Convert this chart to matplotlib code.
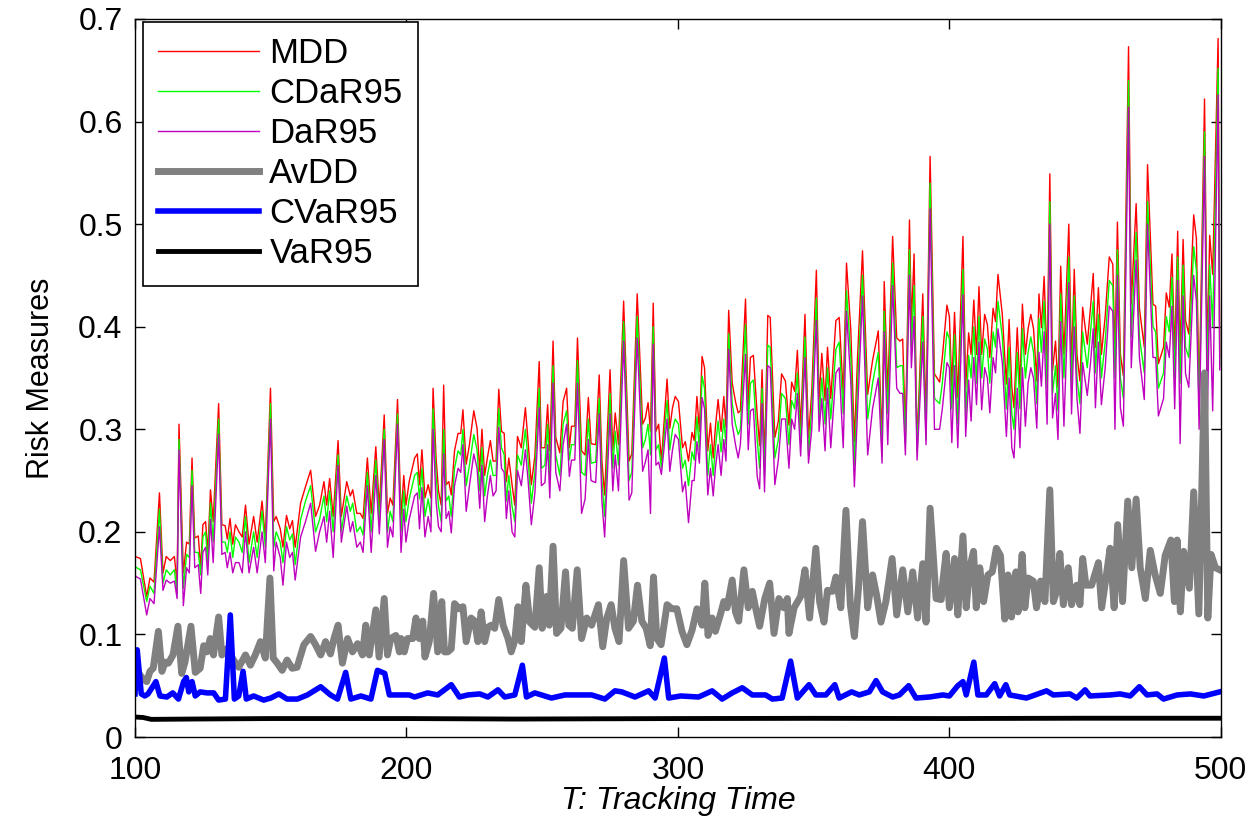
import numpy as np
import matplotlib
matplotlib.use("Agg")
import matplotlib.pyplot as plt
from matplotlib.ticker import FuncFormatter

plt.rcParams['font.family'] = ['Liberation Sans', 'DejaVu Sans']

# drawdown measures at peaks / valleys
t_dd = [100, 102, 104.3, 105.5, 107, 109, 110.3, 111.5, 113, 114.5, 115.5, 116.2, 117.8, 119, 120, 121, 122, 123.3,
        124.2, 125, 126, 126.8, 127.8, 128.8, 130.8, 132, 133.2, 134, 135, 136, 137, 138.3, 139.5, 140.7, 142,
        143.7, 145, 146.8, 148, 149.9, 151.1, 152, 153.5, 154.5, 155.8, 157, 158, 159, 161, 162.8, 164.7, 166.5,
        168, 169.6, 170.6, 171.7, 173, 174.8, 176, 178, 179.3, 180.2, 181.7, 183, 184, 185.6, 187, 188.7, 190,
        191.8, 193, 194, 195, 196.7, 198, 199, 199.8, 201, 203, 204, 204.8, 205.7, 206.8, 208, 209, 209.8,
        210.9, 211.8, 212.8, 213.7, 214.6, 215.6, 216.5, 217.7, 219, 220, 220.8, 222, 223.2, 224.8, 226, 227,
        227.8, 228.8, 229.8, 230.9, 231.9, 233, 234, 235, 236, 236.8, 237.7, 238.9, 239.9, 240.9, 242.3, 243.8,
        244.8, 246, 247.3, 248.9, 249.7, 251, 252, 252.8, 254, 255, 256.5, 257.7, 259, 260, 260.8, 262, 263,
        264.5, 265.8, 267, 268, 269.7, 271, 272, 273, 275, 276, 276.9, 278.1, 280, 282, 283, 285, 287, 288,
        289, 289.9, 290.9, 291.9, 292.9, 293.9, 296, 297, 298, 299, 300.2, 301.7, 302.7, 303.9, 305.2, 306,
        307, 307.9, 308.9, 309.8, 311, 312, 313, 313.8, 314.8, 315.9, 316.9, 317.7, 318.7, 320, 321.2, 322.2,
        323, 324.9, 325.9, 326.7, 327.8, 329.2, 330.1, 331, 331.9, 333.1, 334, 335.7, 337, 338.2, 339.6, 340.9,
        341.9, 343, 344, 345.2, 346.8, 348.1, 349.3, 351, 352, 353, 354.2, 355.1, 356.3, 358.2, 359.4, 360.9,
        362.1, 363.7, 365, 366.2, 368, 369.9, 371.7, 373.8, 375.2, 376, 377.3, 379.1, 380.6, 381.8, 382.8,
        383.8, 385.3, 386, 387, 388.1, 390.2, 391.4, 392.9, 394.5, 396.4, 397.4, 399.1, 400, 400.9, 401.9,
        403.1, 405, 406, 407.1, 408, 409, 410, 410.9, 411.9, 413, 414, 414.9, 416.1, 417, 417.9, 419.5, 421,
        422, 423, 423.8, 425, 426, 426.9, 428, 429, 430, 431, 432.2, 433, 433.9, 434.9, 436, 437, 438, 439.1,
        440, 441, 442.2, 444, 445, 446, 447, 448.1, 449.1, 450.8, 452, 453, 453.8, 454.9, 456, 457.4, 458.9,
        460.2, 461, 461.9, 463, 464.1, 466, 467, 468.8, 470, 471.8, 473, 475, 476, 477, 478.9, 479.9, 481, 482,
        483, 484.1, 485, 486.1, 487, 488.2, 490, 491, 492, 494, 495, 495.9, 497, 499, 499.6]

mdd = [.176, .174, .137, .155, .151, .238, .160, .176, .172, .176, .150, .305, .160, .190, .188, .272, .194, .196,
       .165, .207, .210, .180, .241, .210, .325, .207, .206, .193, .213, .188, .207, .200, .195, .226, .188,
       .215, .190, .230, .194, .340, .210, .215, .203, .185, .216, .203, .211, .185, .228, .244, .260, .215,
       .226, .249, .226, .252, .215, .289, .215, .249, .235, .241, .218, .218, .213, .272, .218, .283, .224,
       .314, .218, .233, .226, .329, .215, .255, .226, .249, .272, .276, .246, .280, .233, .246, .233, .340,
       .272, .240, .226, .343, .246, .249, .236, .279, .296, .296, .319, .266, .285, .318, .301, .259,
       .300, .255, .272, .289, .269, .269, .339, .298, .296, .249, .272, .246, .226, .293, .282, .321,
       .288, .246, .274, .366, .282, .282, .324, .279, .386, .292, .277, .327, .340, .282, .303, .303, .389,
       .279, .275, .331, .286, .285, .353, .269, .236, .358, .279, .316, .285, .425, .269, .276, .432, .305, .311,
       .326, .298, .423, .298, .305, .269, .349, .301, .321, .332, .327, .282, .288, .269, .297, .289,
       .332, .298, .371, .360, .279, .306, .272, .302, .329, .298, .332, .302, .416, .345, .327, .316,
       .318, .427, .324, .370, .372, .314, .284, .358, .269, .411, .409, .292, .308, .354, .347, .304,
       .346, .337, .377, .301, .412, .292, .337, .455, .328, .374, .328, .380, .330, .406, .409, .334,
       .462, .396, .288, .372, .474, .334, .367, .396, .288, .444, .336, .488, .389, .386, .388,
       .298, .504, .403, .471, .285, .432, .311, .566, .354, .346, .370, .421, .410, .341, .414,
       .331, .488, .341, .394, .373, .426, .373, .439, .373, .412, .402, .370, .418, .405, .451, .412, .344,
       .407, .341, .321, .399, .341, .422, .373, .398, .412, .398, .347, .432, .399, .449, .364, .549, .357, .386,
       .341, .459, .373, .500, .361, .456, .373, .347, .419, .383, .419, .452, .380, .438, .373, .410, .468,
       .461, .373, .502, .373, .352, .673, .422, .520, .418, .380, .558, .422, .420, .364, .380, .433, .419, .471,
       .373, .493, .373, .485, .406, .393, .509, .486, .331, .622, .373, .489, .451, .681, .370]

cdar95 = [.166, .163, .132, .147, .140, .222, .150, .163, .158, .163, .140, .290, .145, .178, .175, .260, .180, .180,
          .158, .195, .200, .170, .228, .190, .310, .190, .190, .180, .200, .175, .195, .190, .180, .215, .170,
          .200, .175, .220, .185, .325, .185, .200, .190, .170, .205, .192, .198, .168, .212, .230, .245, .200,
          .212, .235, .210, .240, .200, .275, .200, .235, .220, .228, .200, .205, .197, .258, .200, .270, .210,
          .300, .200, .220, .210, .315, .200, .240, .210, .232, .255, .258, .232, .262, .215, .232, .215, .320,
          .255, .225, .210, .300, .230, .235, .215, .262, .279, .275, .300, .245, .265, .295, .280, .240,
          .282, .235, .255, .270, .255, .255, .320, .282, .275, .230, .255, .225, .210, .275, .265, .300,
          .270, .228, .258, .340, .262, .265, .305, .255, .362, .275, .255, .305, .318, .270, .285, .285, .367,
          .258, .255, .310, .267, .268, .330, .250, .215, .335, .262, .298, .265, .405, .250, .258, .410, .282, .290,
          .305, .275, .400, .280, .285, .262, .328, .280, .300, .310, .305, .262, .270, .245, .278, .270,
          .312, .280, .352, .340, .255, .285, .255, .282, .308, .278, .310, .285, .393, .325, .305, .295,
          .300, .402, .305, .345, .348, .290, .262, .340, .255, .382, .380, .272, .290, .335, .330, .285,
          .328, .320, .355, .285, .390, .275, .320, .428, .310, .350, .305, .360, .310, .378, .385, .315,
          .435, .370, .265, .345, .450, .310, .345, .375, .275, .415, .315, .462, .360, .362, .362,
          .285, .475, .380, .440, .278, .410, .290, .540, .330, .325, .345, .395, .388, .320, .392,
          .305, .456, .312, .372, .350, .400, .345, .410, .350, .388, .378, .345, .395, .380, .425, .390, .320,
          .380, .315, .300, .375, .320, .398, .350, .375, .390, .375, .325, .408, .375, .425, .340, .522, .335, .362,
          .318, .432, .350, .468, .340, .430, .350, .325, .395, .360, .395, .425, .355, .412, .350, .385, .445,
          .440, .350, .475, .350, .330, .640, .390, .492, .390, .355, .522, .400, .395, .340, .355, .410, .395, .448,
          .350, .468, .345, .460, .380, .370, .478, .455, .315, .590, .350, .460, .400, .652, .362]

dar95 = [.157, .154, .119, .135, .130, .205, .143, .153, .150, .152, .135, .280, .128, .165, .160, .245, .165, .168,
         .140, .180, .185, .158, .212, .170, .295, .178, .180, .165, .180, .160, .170, .170, .160, .200, .160,
         .185, .160, .200, .170, .310, .162, .190, .175, .148, .190, .175, .180, .153, .195, .210, .228, .181,
         .200, .215, .190, .220, .175, .265, .190, .225, .200, .210, .185, .190, .180, .245, .180, .255, .198,
         .290, .185, .205, .195, .305, .180, .222, .190, .212, .235, .238, .203, .243, .195, .215, .200, .300,
         .230, .205, .200, .276, .213, .220, .199, .245, .262, .258, .285, .220, .245, .276, .262, .223,
         .265, .210, .235, .255, .235, .240, .302, .262, .258, .213, .240, .200, .195, .260, .245, .280,
         .250, .207, .238, .321, .245, .248, .285, .233, .345, .258, .240, .285, .305, .254, .270, .270, .345,
         .218, .232, .290, .250, .248, .315, .230, .195, .315, .240, .275, .240, .386, .231, .238, .389, .259, .268,
         .280, .218, .383, .265, .268, .256, .310, .259, .280, .295, .290, .239, .249, .209, .250, .250,
         .288, .267, .331, .320, .236, .262, .235, .262, .285, .255, .290, .269, .378, .305, .285, .272,
         .285, .373, .280, .318, .320, .254, .242, .325, .239, .362, .360, .246, .270, .310, .310, .262,
         .310, .300, .335, .274, .370, .267, .300, .406, .298, .330, .279, .340, .282, .355, .360, .282,
         .415, .345, .244, .320, .430, .275, .320, .350, .267, .395, .285, .440, .340, .335, .335,
         .275, .450, .360, .410, .270, .385, .285, .515, .300, .300, .320, .365, .360, .287, .362,
         .282, .431, .293, .348, .308, .370, .324, .385, .319, .360, .350, .316, .370, .355, .398, .365, .293,
         .350, .282, .272, .340, .282, .360, .303, .345, .360, .350, .301, .375, .342, .395, .305, .500, .311, .335,
         .290, .405, .303, .443, .315, .400, .330, .296, .365, .333, .365, .398, .321, .385, .324, .360, .420,
         .415, .300, .450, .321, .303, .614, .360, .465, .370, .329, .500, .370, .370, .313, .330, .385, .370, .420,
         .320, .445, .286, .430, .354, .341, .450, .425, .300, .566, .310, .430, .318, .626, .358]

t_avdd = [100, 102.8, 104.3, 105.5, 106.7, 108.6, 109.9, 111.1, 112.3, 114, 115.8, 117.2, 118.4, 120.6, 122.2, 124,
          125.3, 126.5, 127.7, 128.9, 130.8, 132, 133.8, 136.3, 138.2, 140.7, 142.5, 144.3, 146.2, 148, 149.7,
          150.9, 152.4, 154.2, 156, 157.9, 159.7, 162.2, 164.7, 166.5, 168.4, 170.2, 172, 173.3, 174.8, 176.4,
          178.3, 180.1, 182, 183.8, 185, 186.3, 188.7, 189.9, 191.8, 193, 194.2, 196.1, 197.4, 198, 199.2, 200.4,
          202.3, 203.5, 204.7, 206, 206.8, 208.4, 210, 211.5, 213, 214, 215.2, 216.5, 217.7, 219.5, 220.8, 222,
          223.8, 225.1, 226.3, 227.5, 228.8, 230, 231.2, 232.5, 234, 235.6, 237.4, 238.6, 239.9, 241.1, 242.3,
          244, 245.4, 247.3, 248.9, 250, 251.6, 252.6, 254, 255.3, 256.9, 258.6, 259.8, 261.1, 262.9, 264.5,
          266.4, 268.2, 270.7, 272.3, 273.8, 275.4, 276.8, 278.3, 280, 281.8, 283.6, 285.1, 286.7, 288.3, 289.8,
          291, 292.2, 293.8, 296, 297.8, 299.6, 301.5, 303.3, 305.2, 307, 308.9, 309.9, 311.1, 312.6, 313.8,
          315.6, 316.9, 318.1, 320, 321.2, 322.4, 324.3, 325.9, 327.4, 328.6, 330.1, 332, 333.8, 335.4, 337.2,
          339, 340.3, 340.9, 342.8, 345.2, 346.8, 348.5, 350.8, 352.2, 353.8, 355.1, 356.9, 358.2, 360, 361.9,
          363.5, 365, 366.5, 368, 369.9, 371.7, 373.2, 374.8, 376.6, 378.9, 380.6, 382.8, 384.7, 386.5, 388.3,
          390.2, 391.4, 392.9, 395.1, 397, 397.6, 398.8, 400, 401.9, 403.1, 405, 406.2, 407.5, 408.9, 409.9,
          411.2, 412.6, 414.2, 415.8, 417.3, 418.8, 420.4, 421.6, 422.9, 424.5, 425.3, 426.8, 427.8, 429, 430.9,
          432.1, 433.6, 435.2, 437, 438.3, 439.5, 440.7, 442, 443.8, 445, 446.9, 448.1, 449.1, 450.3, 452.4,
          454.9, 456.1, 458, 459.2, 460.7, 462, 463.8, 465.7, 467.2, 468.8, 470.3, 472.2, 474, 475.8, 477.7,
          479.5, 481.6, 482.9, 483.9, 485.1, 486.3, 488.4, 490, 491.9, 494, 495.2, 496.4, 498, 499.6]

avdd = [.067, .057, .054, .064, .067, .103, .064, .073, .072, .080, .108, .062, .073, .108, .063, .067,
        .089, .083, .096, .080, .117, .080, .086, .075, .068, .080, .070, .080, .093, .077, .155,
        .077, .072, .065, .075, .067, .068, .090, .098, .090, .080, .093, .081, .096, .109, .072,
        .096, .083, .091, .080, .109, .080, .124, .078, .135, .080, .096, .099, .083, .096, .083, .096,
        .096, .116, .096, .113, .078, .093, .140, .083, .132, .083, .083, .086, .130, .125, .127, .093,
        .116, .113, .093, .122, .093, .107, .109, .106, .134, .109, .096, .083, .094, .127, .093,
        .148, .112, .107, .165, .106, .137, .109, .186, .101, .106, .161, .109, .106, .163, .096,
        .116, .109, .129, .088, .116, .129, .106, .093, .172, .106, .113, .148, .113, .106, .089,
        .156, .096, .090, .129, .125, .125, .103, .090, .104, .125, .109, .150, .099, .116, .103,
        .119, .132, .126, .153, .122, .113, .163, .126, .142, .126, .108, .135, .150, .101, .135,
        .126, .135, .101, .126, .137, .163, .116, .184, .132, .112, .143, .142, .156, .126, .221,
        .129, .098, .145, .210, .126, .158, .138, .112, .132, .174, .119, .163, .122, .161, .116,
        .169, .112, .223, .135, .134, .152, .179, .126, .174, .119, .196, .126, .165, .181, .126,
        .165, .132, .158, .161, .184, .177, .115, .158, .117, .161, .122, .178, .126, .155, .152,
        .126, .152, .132, .241, .132, .142, .179, .129, .165, .129, .148, .129, .174, .148, .148,
        .170, .126, .161, .184, .126, .207, .132, .230, .165, .232, .165, .135, .182, .158, .140,
        .177, .192, .132, .192, .122, .181, .145, .239, .120, .355, .116, .178, .165, .163]

t_cvar = [100, 100.8, 102.3, 103.6, 104.8, 107.7, 109.2, 111.7, 113.9, 116, 117.9, 118.9, 119.8, 121, 122.2, 124,
          126.5, 129, 130.8, 133.3, 135.1, 136.6, 138.2, 139.8, 141, 143.7, 147.4, 150, 153, 156, 159.8, 163.5,
          168.4, 172, 174.6, 177.6, 179.5, 183.2, 186.9, 189.3, 192, 193.7, 196.8, 201, 203, 207.8, 211.5,
          216.5, 219.5, 222.6, 227, 230, 233.7, 236.2, 239.9, 242.7, 244.2, 247.3, 253.4, 258.4, 263.3, 268.2,
          273.1, 276.8, 279.3, 284.2, 289.2, 291.6, 295, 296.6, 301, 307.6, 312.6, 316.3, 320, 323.7, 327.4,
          332.3, 334.8, 338.4, 341.5, 344, 348.3, 350.8, 354.5, 357.8, 359.4, 364, 366.8, 370.5, 373, 375.4,
          379.1, 381.6, 385, 387.7, 392.7, 397.6, 400, 403.1, 405, 406.2, 409, 410.5, 413.6, 416.7, 418.5,
          420.8, 422.2, 428.4, 435.8, 438.3, 444.4, 446.9, 450, 451.8, 459.2, 462.9, 466.6, 470, 472.8, 476.5,
          478.9, 483.9, 488.8, 493.7, 499.6]

cvar95 = [.042, .085, .042, .040, .042, .054, .040, .039, .043, .037, .054, .058, .044, .054, .040, .044,
          .043, .043, .036, .037, .119, .037, .040, .064, .037, .040, .036, .038, .042, .037, .037, .041,
          .049, .041, .037, .063, .037, .040, .037, .065, .062, .041, .041, .041, .039, .043, .041,
          .051, .039, .041, .042, .039, .046, .039, .041, .070, .039, .043, .038, .041, .041, .041,
          .037, .045, .044, .039, .045, .038, .077, .038, .040, .039, .045, .037, .043, .048, .041,
          .041, .037, .038, .074, .038, .051, .041, .041, .051, .038, .044, .041, .044, .055, .044,
          .039, .041, .050, .038, .039, .041, .040, .050, .054, .041, .073, .041, .041, .052, .040,
          .051, .041, .038, .045, .041, .042, .038, .046, .040, .041, .042, .040, .049, .041, .042,
          .037, .041, .042, .040, .044]

t_var = [100, 103, 106, 120, 150, 200, 240, 300, 350, 400, 450, 499.6]
var95 = [.0195, .019, .0172, .0175, .018, .018, .0175, .018, .0182, .018, .0183, .0183]

fig = plt.figure(figsize=(12.56, 8.22), dpi=100)
ax = fig.add_axes([0.1075, 0.1034, 0.8645, 0.8735])

ax.plot(t_dd, mdd, color=(1, 0, 0), lw=1.0, label='MDD')
ax.plot(t_dd, cdar95, color=(0, 1, 0), lw=1.0, label='CDaR95')
ax.plot(t_dd, dar95, color=(0.75, 0, 0.75), lw=1.0, label='DaR95')
ax.plot(t_avdd, avdd, color=(0.5, 0.5, 0.5), lw=5, label='AvDD')
ax.plot(t_cvar, cvar95, color=(0, 0, 1), lw=4, label='CVaR95')
ax.plot(t_var, var95, color='k', lw=3.5, label='VaR95')

ax.set_xlim(100, 500)
ax.set_ylim(0, 0.7)
ax.set_xticks([100, 200, 300, 400, 500])
ax.set_yticks(np.arange(0, 0.71, 0.1))
ax.yaxis.set_major_formatter(FuncFormatter(lambda v, p: '0' if abs(v) < 1e-9 else '%.1f' % v))
ax.tick_params(direction='in', length=7, width=1, top=True, right=True)
ax.tick_params(axis='y', labelsize=23, pad=9)
ax.tick_params(axis='x', labelsize=23, pad=14)
for s in ax.spines.values():
    s.set_linewidth(1.0)

ax.set_xlabel('T: Tracking Time', fontsize=23, style='italic', labelpad=0)
ax.set_ylabel('Risk Measures', fontsize=22, labelpad=16)

leg = ax.legend(loc='upper left', bbox_to_anchor=(0.007, 0.996), borderaxespad=0, fontsize=25,
                handlelength=2.9, handletextpad=0.3, labelspacing=0.2, borderpad=0.45,
                fancybox=False, framealpha=1, edgecolor='k')
leg.get_frame().set_linewidth(1.2)

fig.savefig('out.png', dpi=100)
